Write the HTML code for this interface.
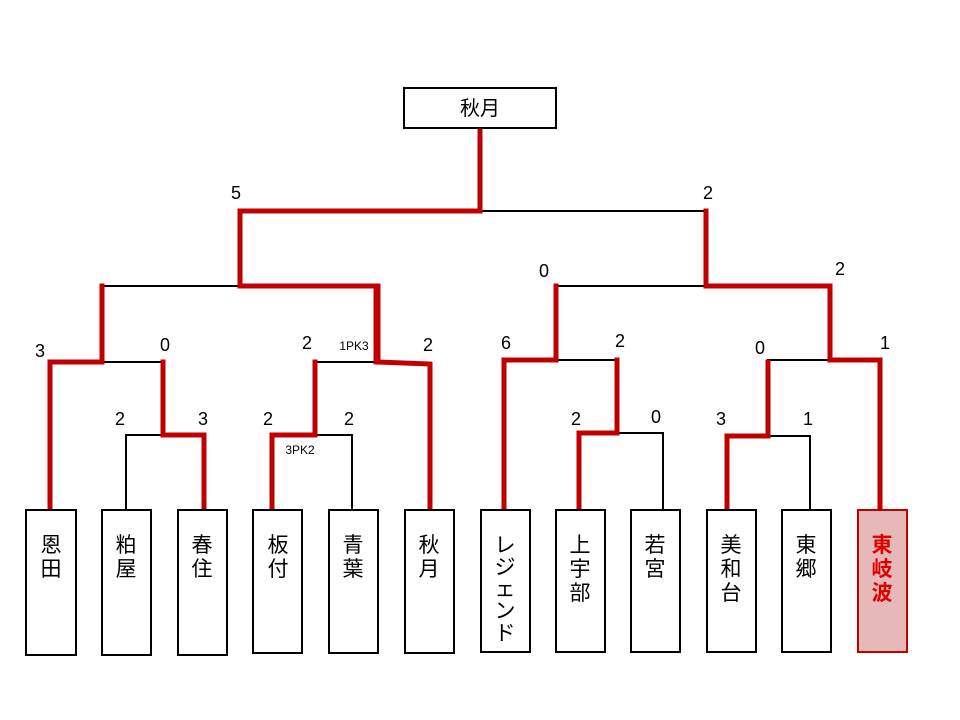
<!DOCTYPE html>
<html><head><meta charset="utf-8"><style>
body{margin:0;background:#fff;}
svg{display:block;}
text{font-family:"Liberation Sans","Noto Sans CJK JP",sans-serif;}
</style></head><body>
<svg width="960" height="720" viewBox="0 0 960 720">
<g fill="none" stroke-linecap="square">
<!-- black thin lines -->
<g stroke="#000" stroke-width="2">
<path d="M126 510V435H163"/>
<path d="M315 435H352V510"/>
<path d="M617 433H663V510"/>
<path d="M768 436H810V510"/>
<path d="M102 362H163"/>
<path d="M315 362H376"/>
<path d="M556 360H614"/>
<path d="M768 360H830"/>
<path d="M102 286H240"/>
<path d="M556 286H706"/>
<path d="M480 211H706"/>
</g>
<g stroke="#c00000" stroke-width="5">
<path d="M204 510V435H163V362"/>
<path d="M272 510V435H315V362"/>
<path d="M579 510V433H617V360"/>
<path d="M727 510V436H768V362"/>
<path d="M50 510V362H102V286"/>
<path d="M430 510V364L376 362V286"/>
<path d="M504 510V360H556V286"/>
<path d="M880 510V360H830V286"/>
<path d="M240 286V211"/>
<path d="M378 286H240"/>
<path d="M378 286V362"/>
<path d="M706 211V286H830"/>
<path d="M240 211H480V128"/>
</g>
</g>
<!-- champion box -->
<rect x="404" y="88" width="152" height="40" fill="#fff" stroke="#000" stroke-width="2"/>
<text x="480" y="115" font-size="20" text-anchor="middle">秋月</text>
<!-- team boxes -->
<g fill="#fff" stroke="#000" stroke-width="2">
<rect x="26" y="510" width="50" height="145"/>
<rect x="102" y="510" width="49" height="145"/>
<rect x="178" y="510" width="49" height="145"/>
<rect x="253" y="510" width="49" height="143"/>
<rect x="329" y="510" width="49" height="143"/>
<rect x="405" y="510" width="49" height="143"/>
<rect x="481" y="510" width="49" height="142"/>
<rect x="556" y="510" width="49" height="142"/>
<rect x="631" y="510" width="49" height="142"/>
<rect x="707" y="510" width="49" height="142"/>
<rect x="782" y="510" width="49" height="142"/>
</g>
<rect x="858" y="510" width="49" height="142" fill="#e6b8b8" stroke="#c00000" stroke-width="2"/>
<g font-size="21" text-anchor="middle">
<text x="51" y="552">恩</text><text x="51" y="576">田</text>
<text x="126" y="552">粕</text><text x="126" y="576">屋</text>
<text x="202" y="552">春</text><text x="202" y="576">住</text>
<text x="278" y="552">板</text><text x="278" y="576">付</text>
<text x="353" y="552">青</text><text x="353" y="576">葉</text>
<text x="429" y="552">秋</text><text x="429" y="576">月</text>
<text x="505" y="552">レ</text><text x="505" y="574">ジ</text><text x="505" y="596">ェ</text><text x="505" y="618">ン</text><text x="505" y="640">ド</text>
<text x="580" y="552">上</text><text x="580" y="576">宇</text><text x="580" y="600">部</text>
<text x="655" y="552">若</text><text x="655" y="576">宮</text>
<text x="731" y="552">美</text><text x="731" y="576">和</text><text x="731" y="600">台</text>
<text x="806" y="552">東</text><text x="806" y="576">郷</text>
<g fill="#e00000" font-weight="bold"><text x="882" y="552">東</text><text x="882" y="576">岐</text><text x="882" y="600">波</text></g>
</g>
<g font-size="18" text-anchor="middle">
<text x="236" y="199">5</text><text x="708" y="199">2</text>
<text x="544" y="277">0</text><text x="840" y="275">2</text>
<text x="40" y="357">3</text><text x="165" y="351">0</text><text x="307" y="349">2</text><text x="428" y="351">2</text>
<text x="506" y="349">6</text><text x="620" y="347">2</text><text x="760" y="354">0</text><text x="885" y="349">1</text>
<text x="120" y="425">2</text><text x="203" y="425">3</text><text x="268" y="425">2</text><text x="349" y="425">2</text>
<text x="576" y="425">2</text><text x="656" y="423">0</text><text x="721" y="425">3</text><text x="808" y="425">1</text>
</g>
<g font-size="12" text-anchor="middle">
<text x="354" y="350">1PK3</text>
<text x="300" y="454">3PK2</text>
</g>
</svg>
</body></html>
